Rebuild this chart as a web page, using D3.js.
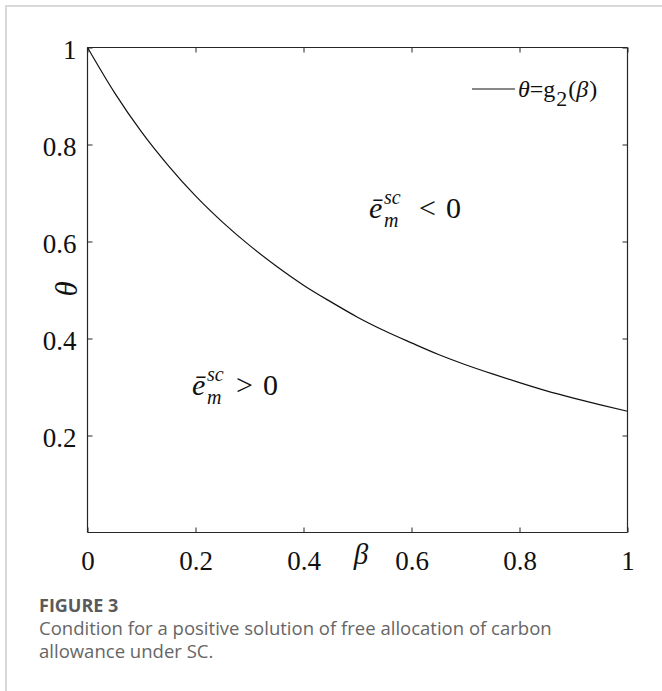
<!DOCTYPE html>
<html>
<head>
<meta charset="utf-8">
<script src="https://cdn.jsdelivr.net/npm/d3@7"></script>
<style>
  html, body { margin: 0; padding: 0; background: #fff; }
  svg { display: block; }
</style>
</head>
<body>
<svg id="chart" width="662" height="691"></svg>
<script>
// ---- data ----
const beta  = [0, 0.05, 0.1, 0.15, 0.2, 0.25, 0.3, 0.35, 0.4, 0.45, 0.5,
               0.55, 0.6, 0.65, 0.7, 0.75, 0.8, 0.85, 0.9, 0.95, 1];
const theta = [1, 0.907, 0.826, 0.756, 0.694, 0.64, 0.592, 0.549, 0.51, 0.476, 0.444,
               0.416, 0.391, 0.367, 0.346, 0.327, 0.309, 0.292, 0.277, 0.263, 0.25];
const xTicks = [0, 0.2, 0.4, 0.6, 0.8, 1];
const xTickLabels = ["0", "0.2", "0.4", "0.6", "0.8", "1"];
const yTicks = [0.2, 0.4, 0.6, 0.8, 1];
const yTickLabels = ["0.2", "0.4", "0.6", "0.8", "1"];

const svg = d3.select("#chart");
const serif = "'Liberation Serif', 'Times New Roman', serif";

// card border (left + top)
svg.append("line").attr("x1", 6).attr("x2", 6).attr("y1", 5).attr("y2", 691)
  .attr("stroke", "#d9d9d9").attr("stroke-width", 2);
svg.append("line").attr("x1", 5).attr("x2", 662).attr("y1", 6).attr("y2", 6)
  .attr("stroke", "#d9d9d9").attr("stroke-width", 2);

const L = 87.5, R = 627.5, T = 47.5, B = 532.5;
const x = d3.scaleLinear().domain([0, 1]).range([L, R]);
const y = d3.scaleLinear().domain([0, 1]).range([B, T]);

const axisColor = "#262626";

const gx = svg.append("g").attr("transform", `translate(0,${B})`)
  .call(d3.axisBottom(x).tickValues(xTicks).tickSizeInner(-5).tickSizeOuter(0)
        .tickFormat((d, i) => xTickLabels[i]));
const gxt = svg.append("g").attr("transform", `translate(0,${T})`)
  .call(d3.axisTop(x).tickValues(xTicks).tickSizeInner(-5).tickSizeOuter(0).tickFormat(""));
const gy = svg.append("g").attr("transform", `translate(${L},0)`)
  .call(d3.axisLeft(y).tickValues(yTicks).tickSizeInner(-5).tickSizeOuter(0)
        .tickFormat((d, i) => yTickLabels[i]));
const gyr = svg.append("g").attr("transform", `translate(${R},0)`)
  .call(d3.axisRight(y).tickValues(yTicks).tickSizeInner(-5).tickSizeOuter(0).tickFormat(""));

[gx, gxt, gy, gyr].forEach(g => {
  g.select(".domain").attr("stroke", axisColor).attr("stroke-width", 1.2);
  g.selectAll(".tick line").attr("stroke", axisColor).attr("stroke-width", 1);
});
gy.select(".domain").attr("d", `M0,${T}V${B}`);
gyr.select(".domain").attr("d", `M0,${T}V${B}`);
gx.select(".domain").attr("d", `M${L},0H${R}`);
gxt.select(".domain").attr("d", `M${L},0H${R}`);

gx.selectAll(".tick text")
  .attr("font-family", serif).attr("font-size", 27).attr("fill", "#111")
  .attr("y", 37).attr("dy", null).attr("text-anchor", "middle");
gy.selectAll(".tick text")
  .attr("font-family", serif).attr("font-size", 27).attr("fill", "#111")
  .attr("x", -11).attr("dy", null).attr("y", 10.5).attr("text-anchor", "end");

// axis titles
svg.append("text").attr("x", 361).attr("y", 564)
  .attr("font-family", serif).attr("font-size", 29).attr("font-style", "italic")
  .attr("text-anchor", "middle").attr("fill", "#111").text("β");
svg.append("text")
  .attr("transform", "translate(77,289) rotate(-90)")
  .attr("font-family", serif).attr("font-size", 31).attr("font-style", "italic")
  .attr("text-anchor", "middle").attr("fill", "#111").text("θ");

// curve
const pts = beta.map((b, i) => [b, theta[i]]);
svg.append("path").datum(pts)
  .attr("fill", "none").attr("stroke", "#111").attr("stroke-width", 1.2)
  .attr("d", d3.line().x(d => x(d[0])).y(d => y(d[1])).curve(d3.curveMonotoneX));

// legend
svg.append("line").attr("x1", 472).attr("x2", 515).attr("y1", 89).attr("y2", 89)
  .attr("stroke", "#111").attr("stroke-width", 1);
const lg = svg.append("text").attr("x", 518).attr("y", 97)
  .attr("font-family", serif).attr("font-size", 24).attr("fill", "#111");
lg.append("tspan").attr("font-style", "italic").text("θ");
lg.append("tspan").text("=g");
lg.append("tspan").attr("dy", 9).attr("dx", 1).attr("font-size", 22).text("2");
lg.append("tspan").attr("dy", -9).attr("dx", 1).text("(");
lg.append("tspan").attr("font-style", "italic").text("β");
lg.append("tspan").attr("dx", 1).text(")");

// region annotations (one text element each, with tspans for scripts)
function annot(x0, yb, sign, xSign, xZero) {
  const t = svg.append("text").attr("x", x0).attr("y", yb)
    .attr("font-family", serif).attr("font-size", 30).attr("fill", "#111");
  t.append("tspan").attr("font-style", "italic").text("ē");
  t.append("tspan").attr("x", x0 + 15).attr("y", yb - 14.5)
    .attr("font-size", 20).attr("font-style", "italic").text("sc");
  t.append("tspan").attr("x", x0 + 15).attr("y", yb + 8.5)
    .attr("font-size", 20).attr("font-style", "italic").text("m");
  t.append("tspan").attr("x", xSign).attr("y", yb).text(sign);
  t.append("tspan").attr("x", xZero).attr("y", yb).text("0");
}
annot(369, 218, "<", 419, 446);
annot(192, 395, ">", 236, 263);

// caption
const capFont = "'Open Sans', Lato, sans-serif";
const cap0 = svg.append("text").attr("x", 39).attr("y", 612)
  .attr("font-family", capFont).attr("font-size", 16).attr("font-weight", "bold")
  .attr("fill", "#5a5a5a").text("FIGURE 3");
const c1 = svg.append("text").attr("x", 39).attr("y", 635)
  .attr("font-family", capFont).attr("font-size", 17).attr("fill", "#666")
  .text("Condition for a positive solution of free allocation of carbon");
const c2 = svg.append("text").attr("x", 39).attr("y", 658)
  .attr("font-family", capFont).attr("font-size", 17).attr("fill", "#666")
  .text("allowance under SC.");
// fit caption sizes to the widths measured in the reference
const w = c1.node().getComputedTextLength();
const fs = 17 * 513 / w;
c1.attr("font-size", fs);
c2.attr("font-size", fs);
const w0 = cap0.node().getComputedTextLength();
cap0.attr("font-size", Math.min(18, 16 * 81 / w0));
</script>
</body>
</html>
